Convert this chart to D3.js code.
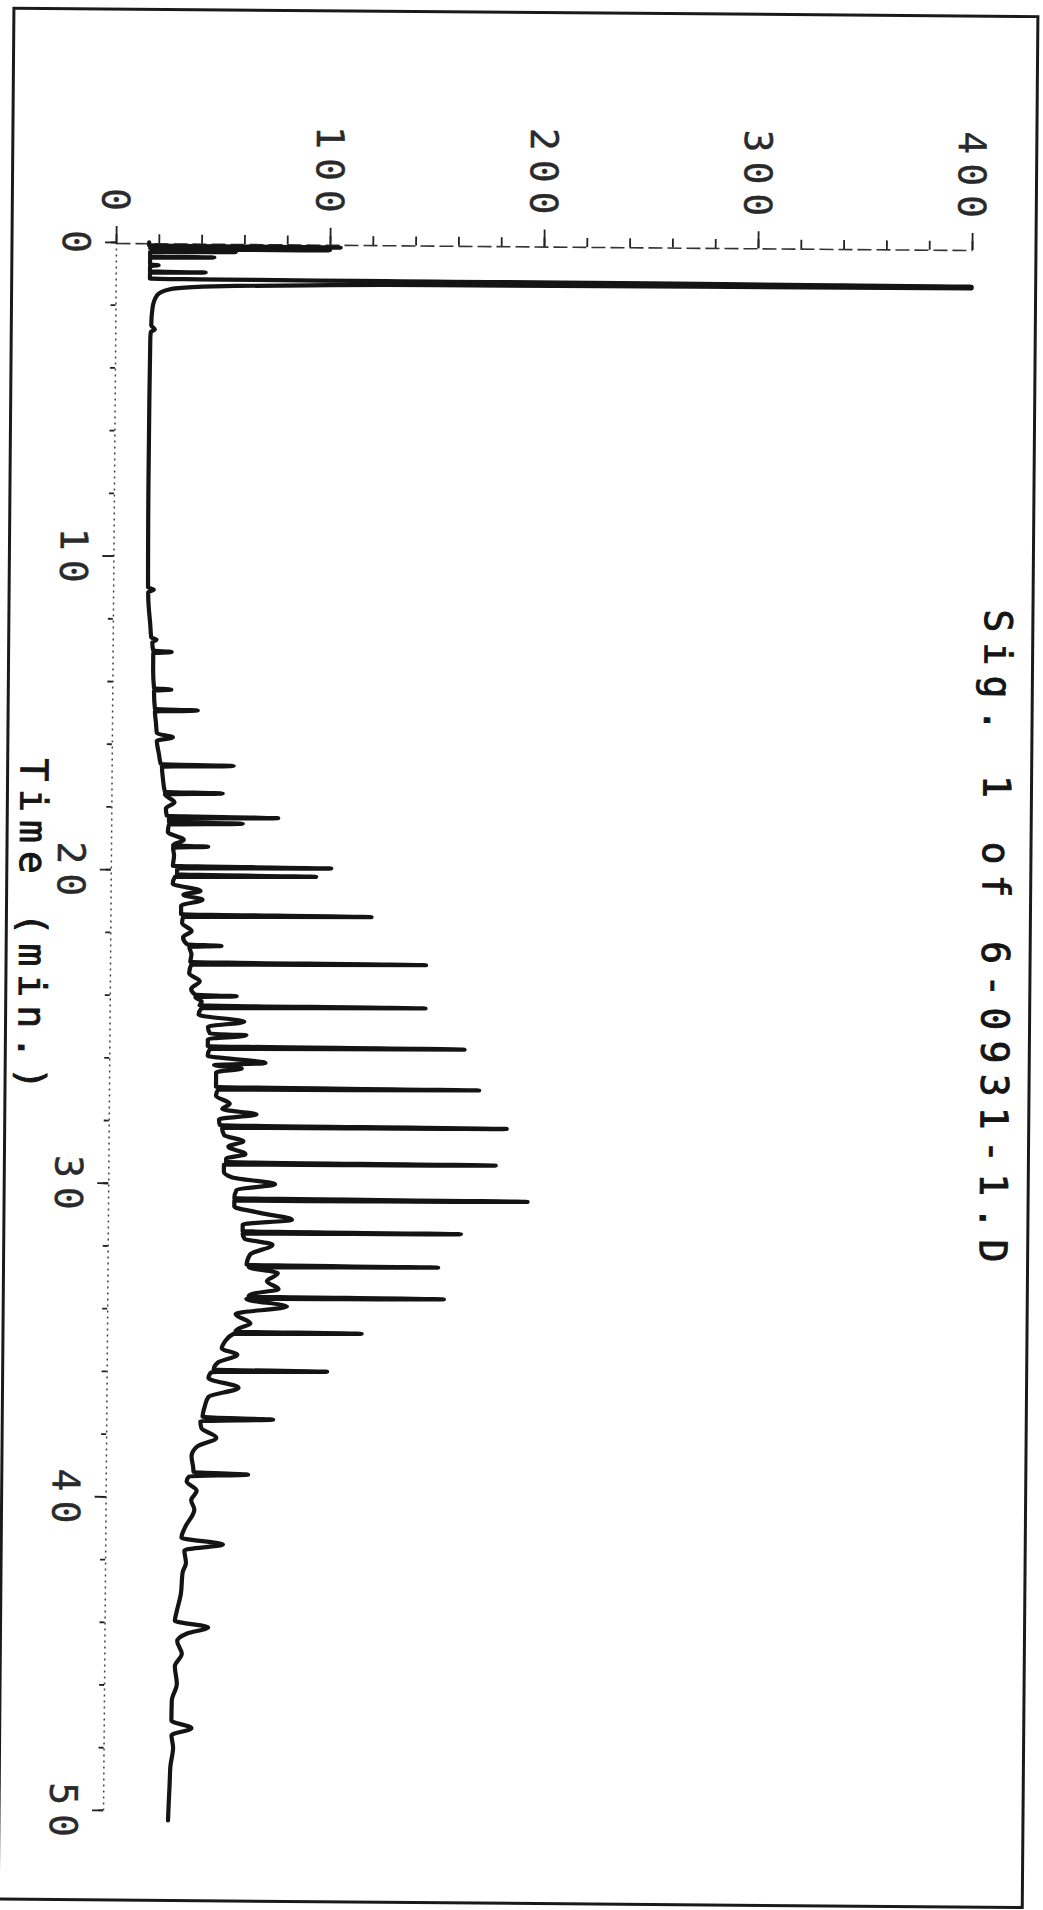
<!DOCTYPE html>
<html><head><meta charset="utf-8">
<script src="https://cdn.jsdelivr.net/npm/d3@7"></script>
<style>html,body{margin:0;padding:0;background:#fff;} svg{display:block;}</style>
</head><body>
<script>
// ---- data (time in minutes, detector signal) ----
const timeMin = [0.00,0.10,0.12,0.14,0.19,0.21,0.23,0.27,0.29,0.31,0.45,0.47,0.49,0.70,0.73,0.76,0.93,0.95,0.97,1.16,
1.20,1.25,1.29,1.33,1.37,1.42,1.50,1.68,2.10,2.65,2.78,2.86,3.10,5.00,8.00,10.00,11.00,11.08,11.16,11.42,12.20,
12.60,12.67,12.75,13.02,13.06,13.10,13.60,14.22,14.26,14.30,14.88,14.92,14.96,15.30,15.65,15.78,15.90,16.30,16.64,16.68,
16.72,17.10,17.52,17.56,17.60,17.85,18.05,18.29,18.33,18.37,18.48,18.52,18.56,18.80,19.05,19.22,19.26,19.30,19.55,19.88,
19.92,19.96,20.15,20.19,20.23,20.45,20.67,20.80,20.95,21.15,21.42,21.46,21.50,21.70,21.95,22.15,22.38,22.42,22.46,22.70,
22.94,22.98,23.02,23.30,23.55,23.80,23.98,24.02,24.06,24.20,24.32,24.36,24.40,24.62,24.83,25.00,25.22,25.26,25.40,25.62,
25.66,25.70,25.92,26.14,26.22,26.32,26.45,26.92,26.96,27.00,27.20,27.45,27.62,27.78,27.95,28.14,28.18,28.22,28.45,28.64,
28.82,29.05,29.20,29.31,29.35,29.39,29.62,29.80,30.00,30.20,30.46,30.50,30.54,30.72,30.92,31.13,31.30,31.51,31.55,31.59,
31.75,31.93,32.25,32.58,32.62,32.66,32.84,33.10,33.35,33.50,33.59,33.63,33.67,33.90,34.15,34.45,34.60,34.71,34.75,34.79,
35.05,35.25,35.45,35.70,35.93,35.97,36.01,36.20,36.50,36.80,37.10,37.44,37.51,37.58,37.80,38.10,38.40,38.70,39.05,39.20,
39.27,39.34,39.50,39.80,40.10,40.40,40.97,41.30,41.50,41.70,42.10,42.40,43.10,43.70,43.95,44.15,44.35,44.60,45.00,45.40,
45.96,46.50,47.13,47.37,47.60,48.00,48.60,49.20,49.70,50.32];
const signal = [15.5,15.5,105,16,16,100,17,17,56,16,16,46,16,16,20,16,16,42,16,16,
400,400,150,90,56,36,25,19.5,17.3,16.8,18.5,16.6,16.4,16.2,16.1,16.2,16.3,19,16.4,16.5,17.5,
18,20.5,18.5,19,27.6,19,19,19.5,27.6,19.5,20,40,20,20.5,21,28.5,21,22,23,57,
23.5,24,25,52,25,29.5,25.5,26,78,27,27,61.5,27,26.5,34,29,45.4,29,29.5,29,
103,31,31,96,30,29,42,34,43,33,33,122,34,33.5,38,34,36,52,37,38,
37.5,147.7,38,37,42,38,40,59.3,40,43,42,147.6,43,41.6,63,46,47,64,46,46,
166,47,46,73,49,62,50,50,173,51,50,56.5,53,69,51.5,52,186,53,54,63,
56,64,55,55,181,54,54,58,78,60,59,196,59,59,71,86,63,63,165,63,
64,77,66.6,65,154.5,66,79.6,74.5,80,68,66,157.3,65,84,60,67,62,60,119,59,
55,53.7,61,52,50,103,49,47.6,61.7,47.7,46,45,78,44,44.5,51.5,42.3,40,40.8,41,
66.5,39,37.8,42.5,40,41.5,37.2,35.6,55,37,37.8,36.3,35.5,33.5,32.8,48.4,38.6,34,36.2,33,
34,31.7,31.6,41,31.7,32.5,31.3,31,30.7,30.4];

const timeMinorTicks = d3.range(0, 51, 2);
const timeMajorTicks = [0, 10, 20, 30, 40, 50];
const timeTickLabels = ["0", "10", "20", "30", "40", "50"];
const signalMinorTicks = d3.range(0, 401, 20);
const signalMajorTicks = [0, 100, 200, 300, 400];
const signalTickLabels = ["0", "100", "200", "300", "400"];
const titleText = "Sig. 1 of 6-0931-1.D";
const timeAxisTitle = "Time (min.)";

// ---- layout ----
const W = 1043, H = 1910;
const FONT = "'DejaVu Sans Mono', 'Liberation Mono', monospace";
const FS = 38, LS = 9;

const svg = d3.select("body").append("svg").attr("width", W).attr("height", H);
svg.append("rect").attr("width", W).attr("height", H).attr("fill", "#fff");

// whole sheet is slightly skewed in the scan
const g = svg.append("g").attr("transform", "rotate(0.474,116,242)");

// frame
g.append("rect").attr("x", 12).attr("y", 9).attr("width", 1024).attr("height", 1891)
  .attr("fill", "none").attr("stroke", "#1a1a1a").attr("stroke-width", 3);

// scales: time runs down the page, signal runs to the right (landscape plot turned 90°)
const yT = d3.scaleLinear().domain([0, 50]).range([242, 1810]);
const xS = d3.scaleLinear().domain([0, 400]).range([116, 972]);

// time axis (left, dotted)
const tMinor = g.append("g").attr("transform", "translate(116,0)")
  .call(d3.axisLeft(yT).tickValues(timeMinorTicks).tickSize(5).tickSizeOuter(0).tickFormat(""));
const tMajor = g.append("g").attr("transform", "translate(116,0)")
  .call(d3.axisLeft(yT).tickValues(timeMajorTicks).tickSize(11).tickSizeOuter(0).tickFormat(""));
[tMinor, tMajor].forEach(a => {
  a.selectAll("line").attr("stroke", "#222").attr("stroke-width", 1.8);
});
tMajor.select(".domain").remove();
tMinor.select(".domain").attr("stroke", "#444").attr("stroke-width", 1.5).attr("stroke-dasharray", "2,4");

// signal axis (top)
const sMinor = g.append("g").attr("transform", "translate(0,243)")
  .call(d3.axisTop(xS).tickValues(signalMinorTicks).tickSize(9).tickSizeOuter(0).tickFormat(""));
const sMajor = g.append("g").attr("transform", "translate(0,243)")
  .call(d3.axisTop(xS).tickValues(signalMajorTicks).tickSize(17).tickSizeOuter(0).tickFormat(""));
[sMinor, sMajor].forEach(a => {
  a.selectAll("line").attr("stroke", "#222").attr("stroke-width", 1.8);
});
sMajor.select(".domain").remove();
sMinor.select(".domain").attr("stroke", "#333").attr("stroke-width", 1.6).attr("stroke-dasharray", "14,5");

// tick labels (rotated like the rest of the sheet)
g.selectAll("text.tlab").data(timeMajorTicks).join("text")
  .attr("class", "tlab")
  .attr("transform", (d) => `translate(63,${yT(d) + LS / 2}) rotate(90)`)
  .attr("text-anchor", "middle")
  .attr("font-family", FONT).attr("font-size", FS).attr("letter-spacing", LS)
  .attr("fill", "#2a2a2a").attr("stroke", "#2a2a2a").attr("stroke-width", 0.4)
  .text((d, i) => timeTickLabels[i]);

g.selectAll("text.slab").data(signalMajorTicks).join("text")
  .attr("class", "slab")
  .attr("transform", (d) => `translate(${xS(d) - 14},${211 + LS}) rotate(90)`)
  .attr("text-anchor", "end")
  .attr("font-family", FONT).attr("font-size", FS).attr("letter-spacing", LS)
  .attr("fill", "#2a2a2a").attr("stroke", "#2a2a2a").attr("stroke-width", 0.4)
  .text((d, i) => signalTickLabels[i]);

// axis title and sheet title
g.append("text")
  .attr("transform", "translate(25,759) rotate(90)")
  .attr("font-family", FONT).attr("font-size", FS).attr("letter-spacing", 8)
  .attr("fill", "#151515").attr("stroke", "#151515").attr("stroke-width", 0.9)
  .text(timeAxisTitle);

g.append("text")
  .attr("transform", "translate(988,602) rotate(90)")
  .attr("font-family", FONT).attr("font-size", FS).attr("letter-spacing", 10.3)
  .attr("fill", "#151515").attr("stroke", "#151515").attr("stroke-width", 0.9)
  .text(titleText);

// chromatogram trace
const pts = d3.zip(timeMin, signal);
const line = d3.line().x(d => xS(d[1])).y(d => yT(d[0])).curve(d3.curveMonotoneY);
g.append("path").datum(pts).attr("d", line)
  .attr("fill", "none").attr("stroke", "#141414").attr("stroke-width", 4.2)
  .attr("stroke-linejoin", "round").attr("stroke-linecap", "round");
</script>
</body></html>
